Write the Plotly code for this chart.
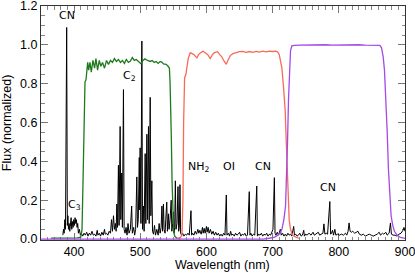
import plotly.graph_objects as go

# comet spectrum (black)
spec_wl = [
    383, 384, 385, 386, 387, 388.8, 389.8, 390.6, 391.5, 392.5,
    393.5, 394.5, 395.5, 396.5, 397.5, 398.5, 399.5, 400.5, 401.5, 402.5,
    403.5, 404.5, 405.5, 406.5, 408, 409.5, 411, 413, 415, 417,
    419, 421, 423, 425, 427, 429, 431, 433, 435, 436,
    438, 440, 442, 444, 446, 447, 449, 451, 453, 455,
    456.5, 458, 459.5, 461, 462.5, 463.5, 464.6, 465.6, 467, 468,
    469.6, 470.6, 472, 473, 474.6, 475.6, 477, 478.5, 480, 481.5,
    483, 485, 487, 488, 490, 491.5, 493, 494.8, 495.8, 497,
    498.5, 499.2, 499.8, 501, 502.4, 503.4, 504.8, 505.8, 507.4, 508.4,
    510, 511, 512.4, 513.5, 515, 516, 517.5, 518.5, 520, 521.5,
    523, 525, 527, 528.5, 530, 531.5, 532.7, 533.7, 535, 536,
    537.5, 538.5, 540, 541, 542.5, 543.5, 545, 546.7, 547.7, 549,
    550, 551, 552, 553, 554, 555.5, 557, 558, 559, 560,
    561, 562.5, 564, 566, 568, 570, 572, 574, 576.6, 577.6,
    579, 581, 583, 585, 587, 588.5, 590, 592, 594, 595,
    596.5, 598, 600, 601, 602.5, 604, 606, 608, 610, 612,
    614, 616, 618, 620, 622, 624, 626, 628, 630, 631,
    633, 635, 636.5, 638, 640, 642, 644, 646, 648, 650,
    652, 654, 656, 658, 660, 662, 664.7, 665.7, 667, 669,
    671, 673, 676, 677, 679, 681, 683, 685, 687, 689,
    691, 693, 695, 697, 699, 700.5, 702.6, 703.6, 705, 707,
    709, 711.6, 713, 715, 717, 719, 721, 723, 725, 727,
    729, 731.8, 733, 735, 737, 739, 741, 743, 745, 747,
    748, 750, 752, 755, 758, 761, 763, 766, 769, 771,
    774, 776, 777.5, 779, 781, 783, 786.4, 787.6, 789, 790.5,
    792, 794, 795.5, 798, 801, 804, 807, 810, 812, 814,
    815.5, 817, 819, 821, 824, 827, 829, 831, 834, 837,
    840, 843, 846, 849, 852, 855, 858, 861, 863, 866,
    868, 871, 873, 876, 878, 879.5, 882, 885, 888, 891,
    894, 897, 898.5, 900,
]
spec_flux = [
    0.02, 0.05, 0.03, 0.1, 0.05, 1.09, 0.07, 0.12, 0.05, 0.08,
    0.04, 0.07, 0.11, 0.05, 0.09, 0.06, 0.1, 0.07, 0.11, 0.08,
    0.1, 0.06, 0.08, 0.03, 0.05, 0.02, 0.03, 0.015, 0.03, 0.02,
    0.035, 0.015, 0.03, 0.02, 0.04, 0.02, 0.025, 0.015, 0.045, 0.02,
    0.03, 0.015, 0.035, 0.02, 0.05, 0.025, 0.03, 0.02, 0.04, 0.03,
    0.1, 0.04, 0.12, 0.05, 0.08, 0.04, 0.18, 0.06, 0.38, 0.07,
    0.58, 0.1, 0.34, 0.06, 0.77, 0.05, 0.03, 0.06, 0.02, 0.08,
    0.03, 0.05, 0.17, 0.03, 0.06, 0.02, 0.05, 0.32, 0.06, 0.1,
    0.42, 0.15, 0.47, 0.08, 1.02, 0.05, 0.17, 0.04, 0.44, 0.08,
    0.54, 0.1, 0.58, 0.08, 0.73, 0.12, 0.3, 0.04, 0.025, 0.07,
    0.02, 0.05, 0.02, 0.08, 0.03, 0.06, 0.17, 0.04, 0.18, 0.05,
    0.03, 0.1, 0.19, 0.04, 0.13, 0.05, 0.1, 0.2, 0.04, 0.08,
    0.14, 0.03, 0.06, 0.3, 0.05, 0.08, 0.27, 0.04, 0.06, 0.28,
    0.03, 0.02, 0.03, 0.015, 0.025, 0.02, 0.03, 0.02, 0.146, 0.02,
    0.03, 0.02, 0.04, 0.025, 0.05, 0.03, 0.045, 0.025, 0.06, 0.03,
    0.055, 0.03, 0.065, 0.035, 0.06, 0.03, 0.05, 0.025, 0.04, 0.02,
    0.035, 0.02, 0.03, 0.015, 0.025, 0.015, 0.03, 0.02, 0.227, 0.02,
    0.03, 0.015, 0.04, 0.02, 0.025, 0.015, 0.03, 0.02, 0.025, 0.035,
    0.015, 0.025, 0.02, 0.03, 0.015, 0.02, 0.244, 0.02, 0.03, 0.015,
    0.025, 0.02, 0.273, 0.015, 0.025, 0.02, 0.03, 0.015, 0.025, 0.02,
    0.03, 0.015, 0.025, 0.02, 0.035, 0.05, 0.316, 0.03, 0.02, 0.035,
    0.02, 0.05, 0.02, 0.03, 0.015, 0.025, 0.015, 0.03, 0.02, 0.025,
    0.015, 0.065, 0.02, 0.025, 0.015, 0.02, 0.03, 0.015, 0.02, 0.045,
    0.015, 0.025, 0.02, 0.03, 0.02, 0.035, 0.02, 0.03, 0.035, 0.02,
    0.025, 0.03, 0.078, 0.025, 0.03, 0.025, 0.193, 0.025, 0.03, 0.045,
    0.02, 0.05, 0.02, 0.025, 0.02, 0.025, 0.02, 0.03, 0.02, 0.04,
    0.083, 0.04, 0.035, 0.04, 0.03, 0.035, 0.04, 0.025, 0.02, 0.025,
    0.015, 0.02, 0.025, 0.02, 0.015, 0.02, 0.025, 0.035, 0.02, 0.03,
    0.025, 0.035, 0.02, 0.03, 0.083, 0.025, 0.02, 0.02, 0.015, 0.025,
    0.03, 0.045, 0.06, 0.04,
]

# filter transmission curves
c2_wl = [
    365, 380, 395, 405, 410, 412, 413.5, 415, 416.5, 418,
    419.5, 420.5, 422, 424, 426, 428.5, 431, 433, 435.5, 438,
    440.5, 443, 446, 449, 452, 455, 458, 461, 464, 467,
    470, 473, 476, 479, 482, 485, 488, 491, 494, 497,
    501, 504, 507, 511, 515, 518, 521, 524, 527, 530,
    533, 535, 539, 542, 544, 545, 546, 547, 548, 549,
    550.5, 552, 555, 560,
]
c2_flux = [
    0.005, 0.005, 0.005, 0.006, 0.01, 0.05, 0.3, 0.65, 0.81, 0.82,
    0.86, 0.91, 0.87, 0.91, 0.86, 0.92, 0.88, 0.93, 0.87, 0.92,
    0.89, 0.91, 0.88, 0.92, 0.9, 0.92, 0.91, 0.93, 0.915, 0.925,
    0.91, 0.92, 0.905, 0.925, 0.91, 0.917, 0.935, 0.92, 0.925, 0.915,
    0.903, 0.92, 0.928, 0.92, 0.915, 0.92, 0.91, 0.915, 0.905, 0.915,
    0.91, 0.902, 0.9, 0.89, 0.88, 0.81, 0.71, 0.51, 0.3, 0.12,
    0.04, 0.015, 0.005, 0.003,
]

nh2_wl = [
    555, 560, 563, 564.5, 565.5, 566.5, 567, 569, 572.5, 575.5,
    578, 581, 585.6, 588, 591, 594.7, 598, 602, 605.7, 609,
    612, 616.8, 620, 623, 626, 630, 633, 636, 640, 645,
    650, 655, 660, 665, 670, 675, 680, 685, 690, 695,
    700, 705, 708, 710, 712, 714, 716.5, 719, 720.5, 722,
    723.5, 725, 727, 730, 735, 740,
]
nh2_flux = [
    0.003, 0.005, 0.02, 0.2, 0.6, 0.8, 0.83, 0.85, 0.93, 0.96,
    0.955, 0.95, 0.933, 0.95, 0.96, 0.967, 0.96, 0.95, 0.93, 0.95,
    0.96, 0.965, 0.95, 0.94, 0.92, 0.9, 0.925, 0.945, 0.955, 0.962,
    0.965, 0.967, 0.962, 0.966, 0.962, 0.967, 0.963, 0.968, 0.964, 0.968,
    0.966, 0.968, 0.962, 0.95, 0.92, 0.88, 0.78, 0.66, 0.51, 0.33,
    0.2, 0.1, 0.05, 0.02, 0.01, 0.004,
]

cn_wl = [
    350, 400, 500, 600, 686, 695, 703, 708, 711, 714,
    717, 719.5, 721, 722.5, 724, 725.5, 727, 729, 733, 740,
    750, 760, 770, 780, 790, 800, 810, 820, 830, 840,
    850, 858, 862, 864.5, 867, 869, 871, 873, 875, 877,
    879, 881.5, 884, 888, 893, 900,
]
cn_flux = [
    0.0, 0.0, 0.0, 0.0, 0.0, 0.004, 0.01, 0.02, 0.03, 0.05,
    0.1, 0.17, 0.3, 0.5, 0.72, 0.9, 0.97, 0.995, 0.998, 0.999,
    1.0, 0.998, 1.0, 1.001, 0.999, 1.0, 0.998, 1.0, 1.001, 0.999,
    1.0, 0.999, 0.998, 0.985, 0.94, 0.87, 0.74, 0.56, 0.36, 0.2,
    0.12, 0.07, 0.04, 0.02, 0.008, 0.003,
]

# species labels
label_text = ["CN", "C<sub>2</sub>", "C<sub>3</sub>", "NH<sub>2</sub>", "OI", "CN", "CN"]
label_x = [389, 483, 401, 588, 634.5, 685, 784]
label_y = [1.152, 0.84, 0.176, 0.37, 0.375, 0.375, 0.266]

fig = go.Figure()
fig.add_trace(go.Scatter(x=spec_wl, y=spec_flux, mode="lines",
                         line=dict(color="black", width=1)))
fig.add_trace(go.Scatter(x=c2_wl, y=c2_flux, mode="lines",
                         line=dict(color="#1f7a1f", width=1.3)))
fig.add_trace(go.Scatter(x=nh2_wl, y=nh2_flux, mode="lines",
                         line=dict(color="#f86a58", width=1.3)))
fig.add_trace(go.Scatter(x=cn_wl, y=cn_flux, mode="lines",
                         line=dict(color="#a449ea", width=1.3)))

for t, x, y in zip(label_text, label_x, label_y):
    fig.add_annotation(x=x, y=y, text=t, showarrow=False,
                       xanchor="center", yanchor="middle",
                       font=dict(family="DejaVu Sans", size=11, color="black"))

axis_font = dict(family="Liberation Sans, Arial, sans-serif", size=12.5, color="black")

# axis titles placed as paper annotations
fig.add_annotation(xref="paper", yref="paper", x=0.4986, y=-0.107,
                   text="Wavelength (nm)", showarrow=False,
                   xanchor="center", yanchor="middle", font=axis_font)
fig.add_annotation(xref="paper", yref="paper", x=-0.093, y=0.5,
                   text="Flux (normalized)", showarrow=False, textangle=-90,
                   xanchor="center", yanchor="middle", font=axis_font)

fig.update_xaxes(
    range=[350, 900], dtick=100, tick0=400,
    ticks="inside", ticklen=7, tickcolor="#777", tickwidth=1,
    minor=dict(ticks="inside", ticklen=3.5, dtick=10, tickcolor="#888"),
    showline=True, linecolor="#333", linewidth=1, mirror="ticks",
    showgrid=False, zeroline=False, layer="below traces",
    tickfont=axis_font, automargin=False, ticklabeloverflow="allow",
)
fig.update_yaxes(
    range=[-0.005, 1.2005], dtick=0.2, tick0=0, tickformat=".1f",
    ticks="inside", ticklen=7, tickcolor="#777", tickwidth=1,
    minor=dict(ticks="inside", ticklen=3.5, dtick=0.05, tickcolor="#888"),
    showline=True, linecolor="#333", linewidth=1, mirror="ticks",
    showgrid=False, zeroline=False, layer="below traces",
    tickfont=axis_font, automargin=False, ticklabeloverflow="allow",
)
fig.update_layout(
    width=415, height=276,
    margin=dict(l=41, r=10, t=6, b=36),
    showlegend=False,
    plot_bgcolor="white", paper_bgcolor="white",
)

# drop the page's default body margin so the figure sits at the window corner
fig.write_html("out.html", config={"displayModeBar": False},
               post_script="document.body.style.margin = '0';")
